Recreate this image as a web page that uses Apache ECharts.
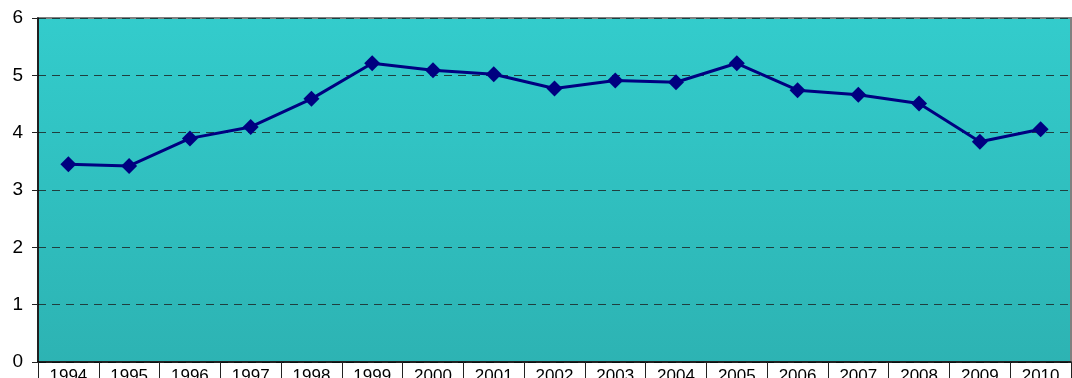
<!DOCTYPE html>
<html>
<head>
<meta charset="utf-8">
<style>
  html, body { margin: 0; padding: 0; background: #ffffff; }
  #chart { width: 1072px; height: 378px; }
</style>
<script src="https://cdn.jsdelivr.net/npm/echarts@6/dist/echarts.min.js"></script>
</head>
<body>
<div id="chart"></div>
<script>
// Yearly values, 1994–2010
const years = ['1994', '1995', '1996', '1997', '1998', '1999', '2000', '2001', '2002',
               '2003', '2004', '2005', '2006', '2007', '2008', '2009', '2010'];
const values = [3.45, 3.42, 3.90, 4.10, 4.59, 5.21, 5.09, 5.02, 4.77,
                4.91, 4.88, 5.21, 4.74, 4.66, 4.51, 3.84, 4.06];
const yTicks = { min: 0, max: 6, interval: 1 };

const chart = echarts.init(document.getElementById('chart'), null, { renderer: 'canvas' });

chart.setOption({
  animation: false,
  grid: {
    left: 38, right: 1, top: 18, bottom: 16,
    outerBoundsMode: 'none',
    containLabel: false,
    show: true,
    borderColor: '#808080',
    borderWidth: 2,
    backgroundColor: new echarts.graphic.LinearGradient(0, 0, 0, 1, [
      { offset: 0, color: '#33cccc' },
      { offset: 1, color: '#2db3b3' }
    ])
  },
  xAxis: {
    type: 'category',
    data: years,
    boundaryGap: true,
    axisLine: { show: true, lineStyle: { color: '#000000', width: 1.5 } },
    axisTick: { show: true, interval: 0, length: 20, lineStyle: { color: '#222222', width: 1 } },
    axisLabel: {
      interval: 0, margin: 6,
      fontFamily: 'Liberation Sans, Arial, sans-serif',
      fontSize: 17, color: '#000000'
    },
    splitLine: { show: false }
  },
  yAxis: {
    type: 'value',
    min: yTicks.min, max: yTicks.max, interval: yTicks.interval,
    axisLine: { show: true, lineStyle: { color: '#000000', width: 1.5 } },
    axisTick: { show: true, length: 6, lineStyle: { color: '#222222', width: 1 } },
    axisLabel: {
      margin: 15,
      fontFamily: 'Liberation Sans, Arial, sans-serif',
      fontSize: 19, color: '#000000'
    },
    splitLine: { show: true, lineStyle: { color: '#1f3f3f', type: [8, 6], width: 1 } }
  },
  series: [{
    type: 'line',
    data: values,
    symbol: 'diamond',
    symbolSize: 16,
    lineStyle: { color: '#000080', width: 3 },
    itemStyle: { color: '#000080' },
    z: 5
  }]
});
</script>
</body>
</html>
